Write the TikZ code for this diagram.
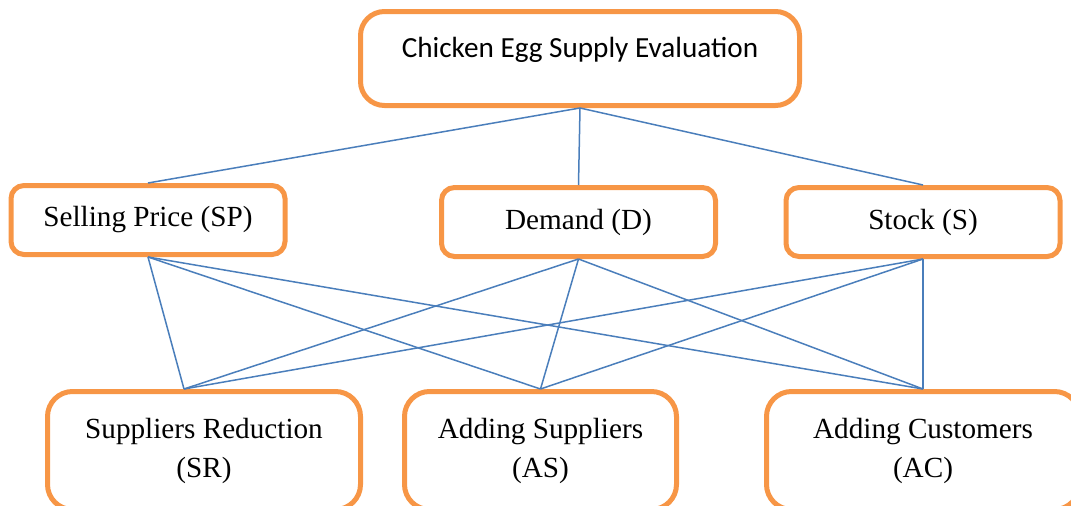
\documentclass[tikz,border=0pt]{standalone}
\usepackage{fontspec}
\setmainfont{Liberation Serif}
\newfontfamily\calibrifont{Carlito}
\usepackage{xcolor}
\usepackage{tikz}
\usetikzlibrary{positioning}
\definecolor{boxorange}{HTML}{F79646}
\definecolor{lineblue}{HTML}{4A7EBB}

\begin{document}
\begin{tikzpicture}[
  x=1pt,y=-1pt,
  every node/.style={draw=boxorange,line width=5pt,rounded corners=13pt,align=center,
    font=\fontsize{29.2}{39}\selectfont,inner sep=0pt},
  goal/.style={minimum width=439pt,minimum height=94pt,rounded corners=24pt,
    font=\calibrifont\fontsize{29.2}{36}\selectfont,text height=20pt,text depth=23pt},
  crit/.style={minimum width=274pt,minimum height=69pt},
  alt/.style={minimum height=118pt,rounded corners=25pt},
  link/.style={draw=lineblue,line width=1.5pt}
]
\useasboundingbox (0,0) rectangle (1071,506);
\clip (0,0) rectangle (1071,506);

% goal
\node[goal] (eval) at (580,58.5) {Chicken Egg Supply Evaluation};

% criteria
\node[crit] (sp) at (148,220) {Selling Price (SP)};
\node[crit] (d) at (578.5,222) {Demand (D)};
\node[crit] (s) at (923,222) {Stock (S)};

% alternatives
\node[alt,minimum width=313pt] (sr) at (204,450.5) {Suppliers Reduction\\(SR)};
\node[alt,minimum width=272pt] (as) at (540.5,450.5) {Adding Suppliers\\(AS)};
\node[alt,minimum width=313pt] (ac) at (923,450.5) {Adding Customers\\(AC)};
\coordinate (srtop) at ([xshift=-20pt]sr.north);

\foreach \c in {sp,d,s}
  \draw[link] (eval.south) -- (\c.north);
\foreach \c in {sp,d,s}
  \foreach \a in {srtop,as.north,ac.north}
    \draw[link] (\c.south) -- (\a);
\end{tikzpicture}
\end{document}
